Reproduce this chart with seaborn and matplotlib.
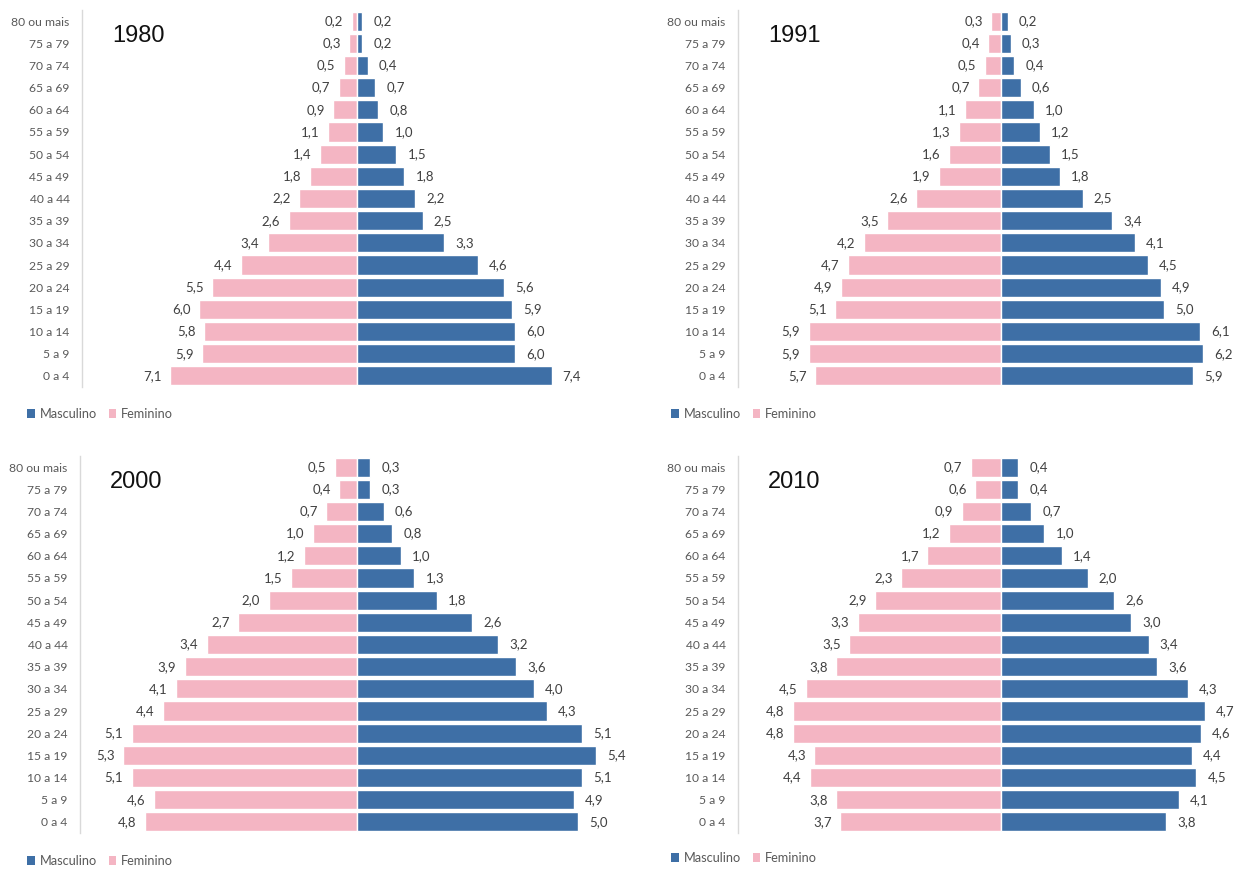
import matplotlib
matplotlib.use("Agg")
import matplotlib.pyplot as plt
import seaborn as sns
import pandas as pd
from matplotlib.patches import Patch

sns.set_theme(style="white")
plt.rcParams['font.family'] = ['Lato', 'DejaVu Sans']

# Age groups, top to bottom
ages = ["80 ou mais", "75 a 79", "70 a 74", "65 a 69", "60 a 64", "55 a 59",
        "50 a 54", "45 a 49", "40 a 44", "35 a 39", "30 a 34", "25 a 29",
        "20 a 24", "15 a 19", "10 a 14", "5 a 9", "0 a 4"]

years = ["1980", "1991", "2000", "2010"]

fem_1980 = [0.2, 0.3, 0.5, 0.7, 0.9, 1.1, 1.4, 1.8, 2.2, 2.6, 3.4, 4.4, 5.5, 6.0, 5.8, 5.9, 7.1]
masc_1980 = [0.2, 0.2, 0.4, 0.7, 0.8, 1.0, 1.5, 1.8, 2.2, 2.5, 3.3, 4.6, 5.6, 5.9, 6.0, 6.0, 7.4]

fem_1991 = [0.3, 0.4, 0.5, 0.7, 1.1, 1.3, 1.6, 1.9, 2.6, 3.5, 4.2, 4.7, 4.9, 5.1, 5.9, 5.9, 5.7]
masc_1991 = [0.2, 0.3, 0.4, 0.6, 1.0, 1.2, 1.5, 1.8, 2.5, 3.4, 4.1, 4.5, 4.9, 5.0, 6.1, 6.2, 5.9]

fem_2000 = [0.5, 0.4, 0.7, 1.0, 1.2, 1.5, 2.0, 2.7, 3.4, 3.9, 4.1, 4.4, 5.1, 5.3, 5.1, 4.6, 4.8]
masc_2000 = [0.3, 0.3, 0.6, 0.8, 1.0, 1.3, 1.8, 2.6, 3.2, 3.6, 4.0, 4.3, 5.1, 5.4, 5.1, 4.9, 5.0]

fem_2010 = [0.7, 0.6, 0.9, 1.2, 1.7, 2.3, 2.9, 3.3, 3.5, 3.8, 4.5, 4.8, 4.8, 4.3, 4.4, 3.8, 3.7]
masc_2010 = [0.4, 0.4, 0.7, 1.0, 1.4, 2.0, 2.6, 3.0, 3.4, 3.6, 4.3, 4.7, 4.6, 4.4, 4.5, 4.1, 3.8]

fem = [fem_1980, fem_1991, fem_2000, fem_2010]
masc = [masc_1980, masc_1991, masc_2000, masc_2010]

MASC_COLOR = "#3E6FA6"
FEM_COLOR = "#F4B5C3"
TEXT_COLOR = "#595959"

W, H = 1236, 869
fig = plt.figure(figsize=(W / 100, H / 100), dpi=100)

# panel geometry in pixels: (axis left, center x, right, top, bottom)
panels = [
    (82, 357, 620, 10, 387),
    (738, 1001, 1236, 10, 387),
    (80, 357, 640, 456, 833),
    (738, 1001, 1236, 456, 833),
]
scales = [26.3, 32.6, 44.2, 43.4]
legend_pos = [(27, 414), (671, 414), (27, 861), (671, 858)]

def fmt(v):
    return f"{v:.1f}".replace(".", ",")

for i, yr in enumerate(years):
    left, cx, right, top, bottom = panels[i]
    ax = fig.add_axes([left / W, 1 - bottom / H, (right - left) / W, (bottom - top) / H])
    df = pd.DataFrame({"idade": ages, "fem": [-v for v in fem[i]], "masc": masc[i]})
    sns.barplot(data=df, y="idade", x="fem", order=ages, color=FEM_COLOR,
                width=0.86, saturation=1, ax=ax, orient="h")
    sns.barplot(data=df, y="idade", x="masc", order=ages, color=MASC_COLOR,
                width=0.86, saturation=1, ax=ax, orient="h")
    s = scales[i]
    ax.set_xlim(-(cx - left) / s, (right - cx) / s)
    ax.set_ylim(16.5, -0.5)
    ax.bar_label(ax.containers[0], labels=[fmt(v) for v in fem[i]], padding=6,
                 fontsize=9.5, color="#404040")
    ax.bar_label(ax.containers[1], labels=[fmt(v) for v in masc[i]], padding=8,
                 fontsize=9.5, color="#404040")
    ax.set_xlabel("")
    ax.set_ylabel("")
    ax.set_xticks([])
    for sp in ["top", "right", "bottom"]:
        ax.spines[sp].set_visible(False)
    ax.spines["left"].set_color("#D9D9D9")
    ax.spines["left"].set_linewidth(1)
    ax.tick_params(axis="y", length=0, pad=9, labelsize=8.7, labelcolor=TEXT_COLOR)
    ax.patch.set_alpha(0)
    # year title
    fig.text((left + 30) / W, 1 - (top + 26) / H, yr, fontsize=17, color="#111111",
             family="Liberation Sans", va="center", ha="left")
    # legend
    lx, ly = legend_pos[i]
    handles = [Patch(facecolor=MASC_COLOR, edgecolor="none"),
               Patch(facecolor=FEM_COLOR, edgecolor="none")]
    fig.legend(handles, ["Masculino", "Feminino"], loc="center left",
               bbox_to_anchor=(lx / W, 1 - ly / H), ncol=2, frameon=False,
               fontsize=9.2, labelcolor=TEXT_COLOR, handlelength=0.6, handleheight=0.6,
               handletextpad=0.4, columnspacing=0.9, borderaxespad=0, borderpad=0)

fig.savefig("out.png", dpi=100, facecolor="white")
